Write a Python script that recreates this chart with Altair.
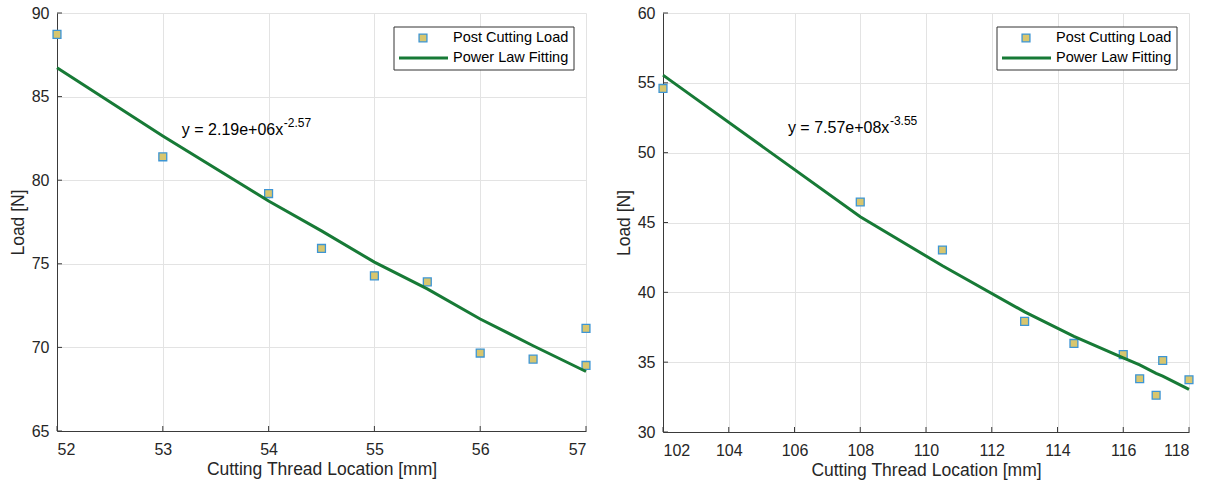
import altair as alt
import pandas as pd

# ---- data ----
left_x = [52, 53, 54, 54.5, 55, 55.5, 56, 56.5, 57, 57]
left_load = [88.72, 81.40, 79.20, 75.92, 74.28, 73.92, 69.66, 69.30, 71.14, 68.92]
left_fit_x = [52, 53, 54, 54.5, 55, 55.5, 56, 56.5, 57]
left_fit_y = [86.73, 82.65, 78.76, 76.97, 75.10, 73.50, 71.70, 70.10, 68.56]
left_xticks = [52, 53, 54, 55, 56, 57]
left_yticks = [65, 70, 75, 80, 85, 90]

right_x = [102, 108, 110.5, 113, 114.5, 116, 116.5, 117, 117.2, 118]
right_load = [54.60, 46.47, 43.03, 37.92, 36.34, 35.54, 33.81, 32.63, 35.12, 33.74]
right_fit_x = [102, 108, 110.5, 113, 114.5, 116, 116.5, 117, 117.2, 118]
right_fit_y = [55.55, 45.41, 41.90, 38.60, 36.85, 35.30, 34.80, 34.20, 34.00, 33.05]
right_xticks = [102, 104, 106, 108, 110, 112, 114, 116, 118]
right_yticks = [30, 35, 40, 45, 50, 55, 60]

legend_labels = ["Post Cutting Load", "Power Law Fitting"]
eq_main = ["y = 2.19e+06x", "y = 7.57e+08x"]
eq_exp = ["-2.57", "-3.55"]

FONT = "Liberation Sans"
FILL = "#d8c66e"
EDGE = "#3d95d4"
GREEN = "#177a36"
AXIS = "#3a3a3a"


def panel(xs, ys, fx, fy, xticks, yticks, W, H, eq, ex, eqx, eqy):
    xdom = [xticks[0], xticks[-1]]
    ydom = [yticks[0], yticks[-1]]
    pts = pd.DataFrame({"x": xs, "y": ys})
    fit = pd.DataFrame({"x": fx, "y": fy})
    xsc = alt.Scale(domain=xdom, nice=False, zero=False)
    ysc = alt.Scale(domain=ydom, nice=False, zero=False)
    xax = alt.Axis(values=xticks, title="Cutting Thread Location [mm]", format="d")
    yax = alt.Axis(values=yticks, title="Load [N]", format="d")

    points = alt.Chart(pts).mark_square(
        size=62, filled=True, fill=FILL, stroke=EDGE, strokeWidth=1.3, opacity=1
    ).encode(x=alt.X("x:Q", scale=xsc, axis=xax), y=alt.Y("y:Q", scale=ysc, axis=yax))

    line = alt.Chart(fit).mark_line(color=GREEN, strokeWidth=3).encode(
        x=alt.X("x:Q", scale=xsc), y=alt.Y("y:Q", scale=ysc)
    )

    xt = alt.Chart(pd.DataFrame({"t": xticks})).mark_rule(color=AXIS, strokeWidth=1).encode(
        x=alt.X("t:Q", scale=xsc), y=alt.value(H), y2=alt.value(H - 5)
    )
    yt = alt.Chart(pd.DataFrame({"t": yticks})).mark_rule(color=AXIS, strokeWidth=1).encode(
        y=alt.Y("t:Q", scale=ysc), x=alt.value(0), x2=alt.value(5)
    )

    ann = pd.DataFrame({"x": [eqx], "y": [eqy], "m": [eq], "e": [ex]})
    t_main = alt.Chart(ann).mark_text(
        align="left", baseline="alphabetic", font=FONT, fontSize=16, color="#000000"
    ).encode(x=alt.X("x:Q", scale=xsc), y=alt.Y("y:Q", scale=ysc), text="m:N")
    t_exp = alt.Chart(ann).mark_text(
        align="left", baseline="alphabetic", font=FONT, fontSize=12, color="#000000",
        dx=102, dy=-8
    ).encode(x=alt.X("x:Q", scale=xsc), y=alt.Y("y:Q", scale=ysc), text="e:N")

    one = pd.DataFrame({"k": [0]})
    box = alt.Chart(one).mark_rect(fill="white", stroke="#333333", strokeWidth=1).encode(
        x=alt.value(W - 192), x2=alt.value(W - 12), y=alt.value(14), y2=alt.value(57)
    )
    lg_sq = alt.Chart(one).mark_square(
        size=62, filled=True, fill=FILL, stroke=EDGE, strokeWidth=1.3, opacity=1
    ).encode(x=alt.value(W - 163), y=alt.value(25))
    lg_ln = alt.Chart(one).mark_rule(color=GREEN, strokeWidth=3).encode(
        x=alt.value(W - 187), x2=alt.value(W - 138), y=alt.value(45)
    )
    lg_txt = alt.Chart(pd.DataFrame({"lab": legend_labels, "row": [25, 45]})).mark_text(
        align="left", baseline="middle", font=FONT, fontSize=14.5, color="#000000"
    ).encode(x=alt.value(W - 133), y=alt.Y("row:Q", scale=None), text="lab:N")

    return alt.layer(points, line, xt, yt, t_main, t_exp, box, lg_sq, lg_ln, lg_txt).properties(
        width=W, height=H
    )


left = panel(left_x, left_load, left_fit_x, left_fit_y, left_xticks, left_yticks,
             529, 418, eq_main[0], eq_exp[0], 53.18, 82.70)
right = panel(right_x, right_load, right_fit_x, right_fit_y, right_xticks, right_yticks,
              526, 419, eq_main[1], eq_exp[1], 105.80, 51.40)

chart = alt.hconcat(left, right, spacing=22).properties(
    padding={"left": 9, "top": 5, "right": 5, "bottom": 5}, background="white"
).configure_view(stroke=None).configure_axis(
    labelFont=FONT, titleFont=FONT, labelFontSize=16, titleFontSize=17.5,
    titleFontWeight="normal", labelColor="#262626", titleColor="#262626",
    domainColor=AXIS, domainWidth=1, ticks=False, gridColor="#e3e3e3", gridWidth=1,
).configure_axisX(labelPadding=10, titlePadding=3).configure_axisY(
    labelPadding=8, titlePadding=4
)

chart.save("out.html", embed_options={"renderer": "svg", "actions": False})
